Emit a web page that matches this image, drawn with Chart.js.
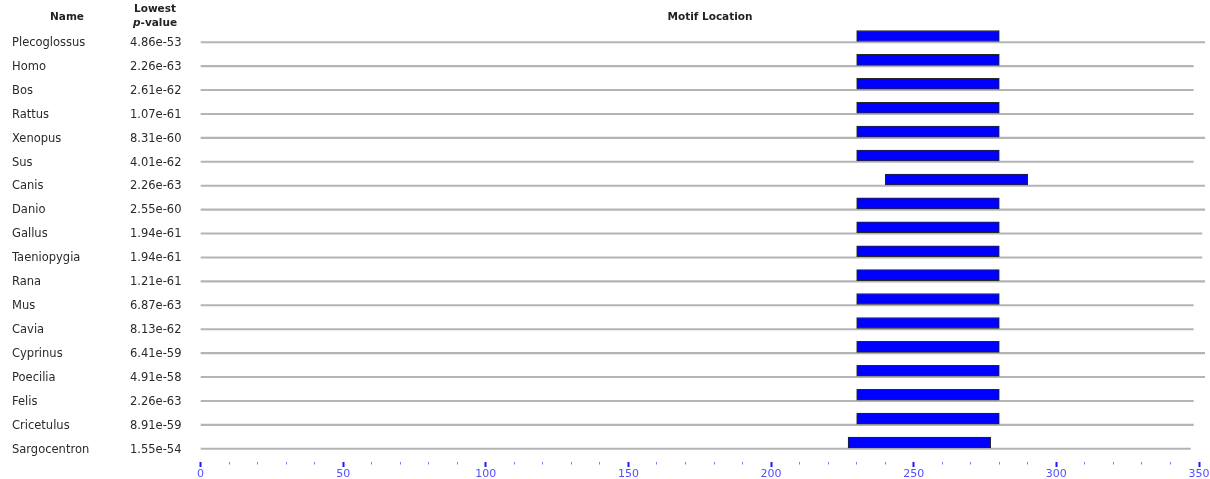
<!DOCTYPE html>
<html>
<head>
<meta charset="utf-8">
<title>Motif Location</title>
<script src="https://cdn.jsdelivr.net/npm/chart.js@4/dist/chart.umd.min.js"></script>
<style>
  html, body { margin: 0; padding: 0; background: #fff; }
  #wrap { position: relative; width: 1210px; height: 479px; }
  .head {
    position: absolute;
    transform: translate(-50%, -50%);
    font: bold 10.5px "DejaVu Sans", Verdana, sans-serif;
    color: #222;
    white-space: nowrap;
    line-height: 1;
  }
</style>
</head>
<body>
<div id="wrap">
  <canvas id="motifChart" width="1210" height="479"></canvas>
  <div class="head" style="left:67px; top:16px;">Name</div>
  <div class="head" style="left:155px; top:8px;">Lowest</div>
  <div class="head" style="left:155px; top:22px;"><i>p</i>-value</div>
  <div class="head" style="left:710px; top:16px;">Motif Location</div>
</div>
<script>
/* ---------- DATA ---------- */
const species = [
  "Plecoglossus", "Homo", "Bos", "Rattus", "Xenopus", "Sus",
  "Canis", "Danio", "Gallus", "Taeniopygia", "Rana", "Mus",
  "Cavia", "Cyprinus", "Poecilia", "Felis", "Cricetulus", "Sargocentron"
];
const lowestPValues = [
  "4.86e-53", "2.26e-63", "2.61e-62", "1.07e-61", "8.31e-60", "4.01e-62",
  "2.26e-63", "2.55e-60", "1.94e-61", "1.94e-61", "1.21e-61", "6.87e-63",
  "8.13e-62", "6.41e-59", "4.91e-58", "2.26e-63", "8.91e-59", "1.55e-54"
];
const seqLength = [
  352, 348, 348, 348, 352, 348,
  352, 352, 351, 351, 352, 348,
  348, 352, 352, 348, 348, 347
];
const motifStart = [
  230, 230, 230, 230, 230, 230,
  240, 230, 230, 230, 230, 230,
  230, 230, 230, 230, 230, 227
];
const motifEnd = [
  280, 280, 280, 280, 280, 280,
  290, 280, 280, 280, 280, 280,
  280, 280, 280, 280, 280, 277
];
const axisMin = 0;
const axisMax = 350;
const minorStep = 10;
const majorStep = 50;

/* ---------- CHART ---------- */
const rowFont = { family: "'DejaVu Sans', Verdana, sans-serif", size: 11.5 };
const axisFont = { family: "'DejaVu Sans', Verdana, sans-serif", size: 11 };
const isMajor = ctx => ctx.tick && ctx.tick.value % majorStep === 0;

new Chart(document.getElementById("motifChart"), {
  type: "bar",
  data: {
    labels: species,
    datasets: [
      {
        // motif hit, sits on top of the sequence line
        label: "Motif",
        data: motifStart.map((s, i) => [s, motifEnd[i]]),
        backgroundColor: "#0000ff",
        borderColor: "#262626",
        borderWidth: 1,
        borderSkipped: false,
        barThickness: 11
      },
      {
        // whole sequence drawn as a thin grey rule
        label: "Sequence",
        data: seqLength.map(l => [0, l]),
        backgroundColor: "#b4b4b4",
        borderWidth: 0,
        barThickness: 1.5,
        clip: false
      }
    ]
  },
  options: {
    indexAxis: "y",
    responsive: false,
    animation: false,
    layout: {
      padding: { left: 12, right: 11, top: 29.5, bottom: 0 }
    },
    plugins: {
      legend: { display: false },
      tooltip: { enabled: false }
    },
    scales: {
      x: {
        type: "linear",
        min: axisMin,
        max: axisMax,
        afterFit: s => { s.height = 19; },
        border: { display: false },
        grid: {
          drawOnChartArea: false,
          drawTicks: true,
          tickLength: 8,
          tickWidth: ctx => (isMajor(ctx) ? 2 : 1),
          tickColor: ctx => (isMajor(ctx) ? "#1a1aff" : "#7a7aff"),
          tickBorderDash: ctx => (isMajor(ctx) ? [0, 2, 5, 100] : [0, 2, 2.5, 100])
        },
        ticks: {
          stepSize: minorStep,
          autoSkip: false,
          maxRotation: 0,
          padding: 0,
          color: "#5050ff",
          font: axisFont,
          callback: v => (v % majorStep === 0 ? String(v) : "")
        }
      },
      y: {
        type: "category",
        position: "left",
        weight: 2,
        offset: true,
        afterFit: s => { s.width = 118; },
        border: { display: false },
        grid: { display: false, offset: true },
        ticks: {
          crossAlign: "far",
          padding: 0,
          labelOffset: 1.5,
          color: "#2a2a2a",
          font: rowFont
        }
      },
      yp: {
        type: "category",
        position: "left",
        weight: 1,
        offset: true,
        labels: lowestPValues,
        afterFit: s => { s.width = 70.5; },
        border: { display: false },
        grid: { display: false, offset: true },
        ticks: {
          crossAlign: "far",
          padding: 0,
          labelOffset: 1.5,
          color: "#2a2a2a",
          font: rowFont
        }
      }
    }
  }
});
</script>
</body>
</html>
